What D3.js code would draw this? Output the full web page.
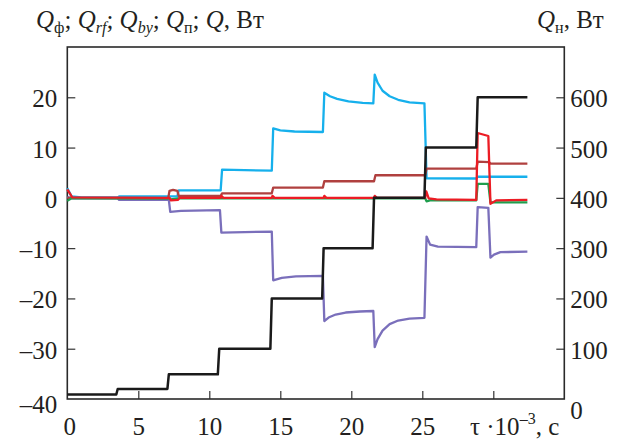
<!DOCTYPE html>
<html>
<head>
<meta charset="utf-8">
<script src="https://cdn.jsdelivr.net/npm/d3@7"></script>
<style>
  html, body { margin: 0; padding: 0; background: #fff; }
  svg { display: block; }
  text { font-family: "Liberation Serif", "Times New Roman", serif; fill: #231f20; }
</style>
</head>
<body>
<svg id="chart" width="623" height="441"></svg>
<script>
// Heat flows vs time, τ·10⁻³ s. Each series is a list of [τ, value] points.
// Left axis (W): Qф, Qrf, Qby, Qп, Q.  Right axis (W): Qн heater power.

const qH = [ // black, right axis
  [0, 9], [3.45, 9], [3.55, 20], [7.05, 20], [7.15, 49], [10.6, 49], [10.7, 100],
  [14.3, 100], [14.4, 200], [17.95, 200], [18.05, 300], [21.5, 300], [21.6, 400],
  [25.15, 400], [25.25, 500], [28.8, 500], [28.9, 600], [32.4, 600]
];

const qRf = [ // cyan
  [0, 1.9], [0.3, 0.3], [1, 0.1], [3.55, 0.1], [3.65, 0.3], [7.75, 0.3], [7.85, 1.5],
  [10.8, 1.5], [10.9, 5.6], [14.4, 5.4], [14.5, 13.8], [15, 13.4], [16, 13.2], [18, 13.1],
  [18.1, 20.9], [18.5, 20.2], [19, 19.7], [19.8, 19.2], [20.8, 18.9], [21.55, 18.8],
  [21.65, 24.5], [21.85, 22.9], [22.2, 21.3], [22.7, 20.2], [23.3, 19.5], [24.1, 19.0],
  [25.15, 18.8], [25.3, 3.9], [28.8, 3.85], [28.9, 4.2], [32.4, 4.2]
];

const qBy = [ // purple
  [0, 0.2], [0.3, -0.1], [3.55, -0.1], [3.65, -0.4], [7.15, -0.4], [7.25, -2.8],
  [8, -2.6], [10.75, -2.45], [10.85, -6.9], [14.4, -6.7], [14.5, -16.4], [15.1, -15.9],
  [16.1, -15.6], [18, -15.5], [18.1, -24.5], [18.4, -23.8], [18.9, -23.2], [19.6, -22.8],
  [20.6, -22.6], [21.55, -22.5], [21.65, -29.7], [21.85, -28.1], [22.2, -26.4],
  [22.7, -25.1], [23.3, -24.4], [24.1, -24.0], [25.15, -23.85], [25.3, -7.7],
  [25.55, -9.3], [26.1, -9.7], [28.8, -9.8], [28.9, -1.85], [29.65, -2.0],
  [29.8, -11.9], [30.05, -11.3], [30.5, -10.8], [32.4, -10.7]
];

const qP = [ // brown
  [0, 0], [7.1, -0.1], [7.2, 1.4], [7.45, 1.6], [7.75, 1.4], [7.85, 0.4], [10.8, 0.4],
  [10.9, 0.9], [14.4, 0.9], [14.5, 2.05], [18, 2.05], [18.1, 3.3], [21.6, 3.3],
  [21.7, 4.5], [25.2, 4.5], [25.3, 5.8], [28.8, 5.8], [28.9, 7.2], [29.7, 7.1],
  [29.8, 6.8], [32.4, 6.8]
];

const qF = [ // green
  [0, -0.6], [0.3, -0.1], [7.2, -0.1], [7.3, -0.3], [7.8, -0.1], [25.2, -0.1],
  [25.3, -0.7], [25.6, -0.45], [28.8, -0.5], [28.9, 2.8], [29.65, 2.8], [29.8, -0.9],
  [32.4, -0.9]
];

const qSum = [ // red
  [0, 1.7], [0.35, 0.1], [7.2, 0], [7.3, -0.5], [7.8, -0.4], [7.9, 0], [10.8, 0],
  [10.85, 0.4], [11, 0], [14.4, 0], [14.45, 0.4], [14.6, 0], [18.05, 0], [18.1, 0.4],
  [18.25, 0], [21.6, 0], [21.65, 0.4], [21.8, 0], [25.2, 0], [25.28, 1.3], [25.45, -0.1],
  [26, -0.3], [28.8, -0.4], [28.9, 12.9], [29.65, 12.3], [29.8, -1.2], [30.2, -0.5],
  [32.4, -0.4]
];

const xTicks = [0, 5, 10, 15, 20, 25, 30];
const yLeftTicks = [-40, -30, -20, -10, 0, 10, 20];
const yRightTicks = [0, 100, 200, 300, 400, 500, 600];

const svg = d3.select("#chart");
const box = { left: 67.3, right: 564.3, top: 47, bottom: 399 };

const x = d3.scaleLinear().domain([0, 35]).range([box.left, box.right]);
const yL = d3.scaleLinear().domain([-40, 30]).range([box.bottom, box.top]);
const yR = d3.scaleLinear().domain([0, 700]).range([box.bottom, box.top]);

const fontSize = 25;

// axes with inward ticks
const gx = svg.append("g")
  .attr("transform", `translate(0,${box.bottom})`)
  .call(d3.axisBottom(x).tickValues(xTicks).tickSize(-8).tickPadding(23)
    .tickFormat(d => d === 30 ? "" : d));
gx.selectAll(".tick").filter(d => d === 0).select("line").remove();
gx.selectAll(".tick").filter(d => d === 0).select("text").attr("dx", 2);

const gl = svg.append("g")
  .attr("transform", `translate(${box.left},0)`)
  .call(d3.axisLeft(yL).tickValues(yLeftTicks).tickSize(-8).tickPadding(10)
    .tickFormat(d => d < 0 ? "\u2013" + Math.abs(d) : d));
gl.selectAll(".tick").filter(d => d === -40).select("line").remove();

const gr = svg.append("g")
  .attr("transform", `translate(${box.right},0)`)
  .call(d3.axisRight(yR).tickValues(yRightTicks).tickSize(-8).tickPadding(6));
gr.selectAll(".tick").filter(d => d === 0).select("line").remove();

[gx, gl, gr].forEach(g => {
  g.select(".domain").remove();
  g.selectAll(".tick line").attr("stroke", "#333").attr("stroke-width", 1.2);
  g.selectAll(".tick text")
    .attr("font-family", "'Liberation Serif', 'Times New Roman', serif")
    .attr("font-size", fontSize).attr("fill", "#231f20");
});
gx.selectAll(".tick text").attr("dy", "0.5em");
gl.selectAll(".tick text").attr("dy", d => d === -40 ? "0.55em" : "0.38em");
gr.selectAll(".tick text").attr("dy", d => d === 0 ? "0.76em" : "0.38em");

// plot frame
svg.append("rect")
  .attr("x", box.left).attr("y", box.top)
  .attr("width", box.right - box.left).attr("height", box.bottom - box.top)
  .attr("fill", "none").attr("stroke", "#2a2a2a").attr("stroke-width", 1.6);

const lineL = d3.line().x(d => x(d[0])).y(d => yL(d[1]));
const lineR = d3.line().x(d => x(d[0])).y(d => yR(d[1]));

const series = [
  { data: qBy, color: "#7a6fbb", line: lineL, w: 2.3 },
  { data: qRf, color: "#16b0ec", line: lineL, w: 2.3 },
  { data: qP, color: "#b0403f", line: lineL, w: 2.3 },
  { data: qF, color: "#1f9e4d", line: lineL, w: 2.3 },
  { data: qSum, color: "#ec1c24", line: lineL, w: 2.3 },
  { data: qH, color: "#1a1a1a", line: lineR, w: 2.5 }
];

svg.append("g").selectAll("path").data(series).join("path")
  .attr("d", s => s.line(s.data))
  .attr("fill", "none")
  .attr("stroke", s => s.color)
  .attr("stroke-width", s => s.w)
  .attr("stroke-linejoin", "round");

// axis titles
const sub = 16;
const tl = svg.append("text").attr("x", 36).attr("y", 28).attr("font-size", fontSize);
function addQ(t, subText, subItalic, tail) {
  t.append("tspan").attr("font-style", "italic").text("Q");
  if (subText) {
    t.append("tspan").attr("font-size", sub).attr("dy", 5)
      .attr("font-style", subItalic ? "italic" : "normal").text(subText);
    t.append("tspan").attr("dy", -5).text(tail);
  } else {
    t.append("tspan").text(tail);
  }
}
addQ(tl, "ф", false, "; ");
addQ(tl, "rf", true, "; ");
addQ(tl, "by", true, "; ");
addQ(tl, "п", false, "; ");
addQ(tl, null, false, ", Вт");

const tr = svg.append("text").attr("x", 537).attr("y", 28).attr("font-size", fontSize);
addQ(tr, "н", false, ", Вт");

const xt = svg.append("text").attr("x", 470).attr("y", 435).attr("font-size", fontSize);
xt.append("tspan").text("τ ·10");
xt.append("tspan").attr("font-size", 16).attr("dy", -11).text("–3");
xt.append("tspan").attr("dy", 11).text(", с");
</script>
</body>
</html>
